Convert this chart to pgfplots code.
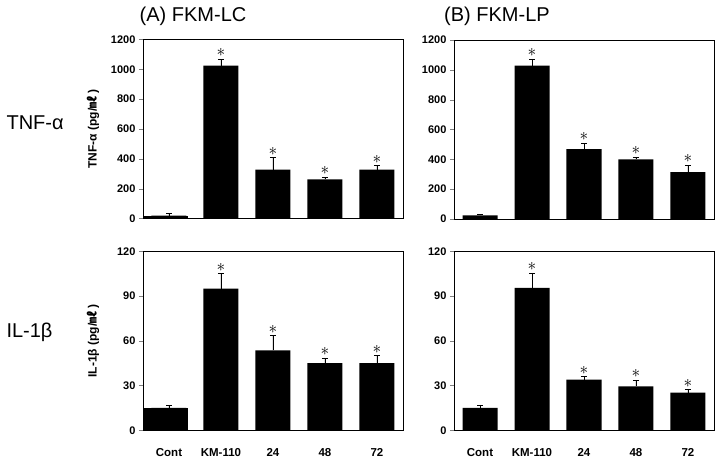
\documentclass[border=0pt]{standalone}
\usepackage{pgfplots}
\pgfplotsset{compat=1.18}
\usepackage{fontspec}
\setmainfont{Liberation Sans}
\newfontfamily\cjk{Noto Sans CJK KR}
\pgfplotsset{
  panel/.style={
    scale only axis, width=260pt, height=179pt,
    xmin=-0.5, xmax=4.5, ymin=0,
    xtick={0,1,2,3,4}, xticklabels={Cont,KM-110,24,48,72},
    x tick style={draw=none},
    ytick pos=left, tick align=outside,
    major tick length=4pt,
    axis line style={line width=0.6pt},
    /pgf/number format/assume math mode=true,
    /pgf/number format/set thousands separator={},
    yticklabel style={font=\bfseries\fontsize{11}{13}\selectfont},
    xticklabel style={font=\bfseries\fontsize{11.5}{13}\selectfont, yshift=-11pt},
    ylabel style={font=\bfseries\fontsize{12}{14}\selectfont, at={(axis description cs:-0.192,0.5)}, anchor=center},
  },
  barplot/.style={ybar, fill=black, draw=none, bar width=35pt, bar shift=0pt,
    error bars/.cd, y dir=plus, y explicit,
    error bar style={line width=0.7pt, black},
    error mark options={rotate=90, mark size=3pt, line width=0.7pt, black}},
  starplot/.style={draw=none, mark=none, nodes near coords, point meta=explicit symbolic,
    nodes near coords style={anchor=center, yshift=6.5pt, font=\fontsize{19}{19}\selectfont, inner sep=0pt}},
}
\begin{document}
\begin{tikzpicture}
\useasboundingbox (0pt,0pt) rectangle (716pt,458pt);
\node[anchor=base, font=\fontsize{20}{24}\selectfont] at (193pt,436pt) {(A) FKM-LC};
\node[anchor=base, font=\fontsize{20}{24}\selectfont] at (497pt,436pt) {(B) FKM-LP};
\node[anchor=base west, font=\fontsize{20}{24}\selectfont] at (3pt,328pt) {TNF-α};
\node[anchor=base west, font=\fontsize{20}{24}\selectfont] at (3pt,120pt) {IL-1β};

% Top-left
\begin{axis}[panel, at={(143pt,239.5pt)}, anchor=south west, ymax=1200, ytick={0,200,...,1200},
  xticklabels={}, ylabel={TNF-α (pg/{\cjk ㎖} )}]
\addplot[ybar, fill=black, draw=none, bar width=45pt, bar shift=-3.5pt] coordinates {(0,20)};
\addplot[barplot] coordinates {(0,20) +- (0,12) (1,1025) +- (0,45) (2,328) +- (0,80) (3,262) +- (0,13) (4,328) +- (0,27)};
\addplot[starplot] coordinates {(1,1070) [$\ast$] (2,408) [$\ast$] (3,275) [$\ast$] (4,355) [$\ast$]};
\end{axis}

% Top-right
\begin{axis}[panel, at={(454pt,239pt)}, anchor=south west, ymax=1200, ytick={0,200,...,1200},
  xticklabels={}]
\addplot[barplot] coordinates {(0,25) +- (0,6) (1,1028) +- (0,45) (2,468) +- (0,40) (3,400) +- (0,15) (4,315) +- (0,45)};
\addplot[starplot] coordinates {(1,1073) [$\ast$] (2,508) [$\ast$] (3,415) [$\ast$] (4,360) [$\ast$]};
\end{axis}

% Bottom-left
\begin{axis}[panel, at={(143pt,27.7pt)}, anchor=south west, ymax=120, ytick={0,30,...,120},
  ylabel={IL-1β (pg/{\cjk ㎖} )}]
\addplot[ybar, fill=black, draw=none, bar width=45pt, bar shift=-3.5pt] coordinates {(0,15)};
\addplot[barplot] coordinates {(0,15) +- (0,1.5) (1,95) +- (0,10) (2,53.5) +- (0,10) (3,45) +- (0,3.5) (4,45) +- (0,5)};
\addplot[starplot] coordinates {(1,105) [$\ast$] (2,63.5) [$\ast$] (3,48.5) [$\ast$] (4,50) [$\ast$]};
\end{axis}

% Bottom-right
\begin{axis}[panel, at={(454pt,27.7pt)}, anchor=south west, ymax=120, ytick={0,30,...,120}]
\addplot[barplot] coordinates {(0,15) +- (0,2) (1,95.5) +- (0,10) (2,34) +- (0,2) (3,29.5) +- (0,4) (4,25.3) +- (0,2)};
\addplot[starplot] coordinates {(1,105.5) [$\ast$] (2,36) [$\ast$] (3,33.5) [$\ast$] (4,27.3) [$\ast$]};
\end{axis}
\end{tikzpicture}
\end{document}
